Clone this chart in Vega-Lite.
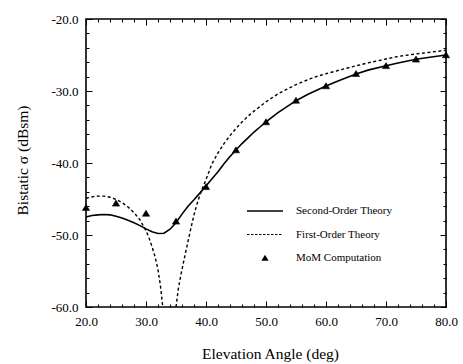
{
  "$schema": "https://vega.github.io/schema/vega-lite/v6.json",
  "width": 360,
  "height": 288,
  "autosize": "none",
  "padding": {"left": 86, "top": 19, "right": 17, "bottom": 57},
  "background": "white",
  "config": {
    "view": {"stroke": "black", "strokeWidth": 1.6},
    "axis": {
      "labelFont": "Liberation Serif",
      "labelFontSize": 13,
      "labelColor": "black",
      "titleFont": "Liberation Serif",
      "titleFontSize": 15.5,
      "titleFontWeight": "normal",
      "titleColor": "black",
      "tickColor": "black",
      "tickWidth": 1,
      "grid": false,
      "domain": false,
      "labelFlush": false,
      "labelOverlap": false
    }
  },
  "datasets": {
    "second": [
      {"angle": 20, "sigma": -47.5}, {"angle": 21, "sigma": -47.3}, {"angle": 22, "sigma": -47.2},
      {"angle": 23, "sigma": -47.15}, {"angle": 24, "sigma": -47.2}, {"angle": 25, "sigma": -47.4},
      {"angle": 26, "sigma": -47.65}, {"angle": 27, "sigma": -47.95}, {"angle": 28, "sigma": -48.3},
      {"angle": 29, "sigma": -48.7}, {"angle": 30, "sigma": -49.15}, {"angle": 31, "sigma": -49.55},
      {"angle": 32, "sigma": -49.8}, {"angle": 33, "sigma": -49.75}, {"angle": 34, "sigma": -49.2},
      {"angle": 35, "sigma": -48.3}, {"angle": 36, "sigma": -47.1}, {"angle": 37, "sigma": -46.0},
      {"angle": 38, "sigma": -45.1}, {"angle": 39, "sigma": -44.15}, {"angle": 40, "sigma": -43.2},
      {"angle": 41, "sigma": -42.2}, {"angle": 42, "sigma": -41.2}, {"angle": 43, "sigma": -40.1},
      {"angle": 44, "sigma": -39.1}, {"angle": 45, "sigma": -38.2}, {"angle": 46, "sigma": -37.3},
      {"angle": 47, "sigma": -36.5}, {"angle": 48, "sigma": -35.7}, {"angle": 49, "sigma": -35.0},
      {"angle": 50, "sigma": -34.3}, {"angle": 52, "sigma": -33.0}, {"angle": 54, "sigma": -31.9},
      {"angle": 55, "sigma": -31.35}, {"angle": 57, "sigma": -30.45}, {"angle": 60, "sigma": -29.3},
      {"angle": 62, "sigma": -28.6}, {"angle": 65, "sigma": -27.65}, {"angle": 67, "sigma": -27.1},
      {"angle": 70, "sigma": -26.5}, {"angle": 72, "sigma": -26.1}, {"angle": 75, "sigma": -25.6},
      {"angle": 77, "sigma": -25.35}, {"angle": 80, "sigma": -25.0}
    ],
    "firstLow": [
      {"angle": 20, "sigma": -44.9}, {"angle": 21, "sigma": -44.7}, {"angle": 22, "sigma": -44.6},
      {"angle": 23, "sigma": -44.6}, {"angle": 24, "sigma": -44.75}, {"angle": 25, "sigma": -45.05},
      {"angle": 26, "sigma": -45.5}, {"angle": 27, "sigma": -46.1}, {"angle": 28, "sigma": -46.9},
      {"angle": 29, "sigma": -47.9}, {"angle": 30, "sigma": -49.4}, {"angle": 30.5, "sigma": -50.4},
      {"angle": 31, "sigma": -51.6}, {"angle": 31.5, "sigma": -53.0}, {"angle": 32, "sigma": -54.8},
      {"angle": 32.4, "sigma": -57.0}, {"angle": 32.8, "sigma": -60.0}
    ],
    "firstHigh": [
      {"angle": 35.0, "sigma": -60.0}, {"angle": 35.4, "sigma": -57.4}, {"angle": 35.8, "sigma": -55.6},
      {"angle": 36.4, "sigma": -53.2}, {"angle": 37, "sigma": -50.9}, {"angle": 37.5, "sigma": -49.0},
      {"angle": 38, "sigma": -47.2}, {"angle": 38.5, "sigma": -45.7}, {"angle": 39, "sigma": -44.4},
      {"angle": 39.5, "sigma": -43.3}, {"angle": 40, "sigma": -42.3}, {"angle": 41, "sigma": -40.1},
      {"angle": 42, "sigma": -38.6}, {"angle": 43, "sigma": -37.3}, {"angle": 44, "sigma": -36.2},
      {"angle": 45, "sigma": -35.2}, {"angle": 46, "sigma": -34.3}, {"angle": 47, "sigma": -33.5},
      {"angle": 48, "sigma": -32.8}, {"angle": 50, "sigma": -31.5}, {"angle": 52, "sigma": -30.4},
      {"angle": 55, "sigma": -29.1}, {"angle": 58, "sigma": -28.1}, {"angle": 60, "sigma": -27.6},
      {"angle": 62, "sigma": -27.15}, {"angle": 65, "sigma": -26.5}, {"angle": 67, "sigma": -26.1},
      {"angle": 70, "sigma": -25.55}, {"angle": 72, "sigma": -25.2}, {"angle": 75, "sigma": -24.85},
      {"angle": 77, "sigma": -24.65}, {"angle": 80, "sigma": -24.35}
    ],
    "mom": [
      {"angle": 20, "sigma": -46.2, "series": "MoM Computation"},
      {"angle": 25, "sigma": -45.6, "series": "MoM Computation"},
      {"angle": 30, "sigma": -47.0, "series": "MoM Computation"},
      {"angle": 35, "sigma": -48.1, "series": "MoM Computation"},
      {"angle": 40, "sigma": -43.3, "series": "MoM Computation"},
      {"angle": 45, "sigma": -38.2, "series": "MoM Computation"},
      {"angle": 50, "sigma": -34.3, "series": "MoM Computation"},
      {"angle": 55, "sigma": -31.3, "series": "MoM Computation"},
      {"angle": 60, "sigma": -29.3, "series": "MoM Computation"},
      {"angle": 65, "sigma": -27.6, "series": "MoM Computation"},
      {"angle": 70, "sigma": -26.5, "series": "MoM Computation"},
      {"angle": 75, "sigma": -25.6, "series": "MoM Computation"},
      {"angle": 80, "sigma": -25.0, "series": "MoM Computation"}
    ]
  },
  "resolve": {"axis": {"x": "independent", "y": "independent"}},
  "layer": [
    {
      "data": {"name": "second"},
      "mark": {"type": "line", "color": "black", "strokeWidth": 1.6},
      "encoding": {
        "x": {
          "field": "angle", "type": "quantitative",
          "scale": {"domain": [20, 80], "nice": false, "zero": false},
          "axis": {
            "orient": "bottom", "values": [20, 30, 40, 50, 60, 70, 80],
            "tickSize": -6, "labelPadding": 14,
            "labelExpr": "format(datum.value, '.1f')",
            "title": "Elevation Angle (deg)",
            "titleX": 184, "titleY": 46, "titleBaseline": "middle", "titleAlign": "center"
          }
        },
        "y": {
          "field": "sigma", "type": "quantitative",
          "scale": {"domain": [-60, -20], "nice": false, "zero": false},
          "axis": {
            "orient": "left", "values": [-60, -50, -40, -30, -20],
            "tickSize": -6, "labelPadding": 14,
            "labelExpr": "(datum.value < 0 ? '-' : '') + format(abs(datum.value), '.1f')",
            "title": "Bistatic σ (dBsm)",
            "titleX": -64, "titleY": 141, "titleAngle": -90,
            "titleBaseline": "middle", "titleAlign": "center",
            "titleFontSize": 15.5
          }
        }
      }
    },
    {
      "data": {"name": "firstLow"},
      "mark": {"type": "line", "color": "black", "strokeWidth": 1.4, "strokeDash": [3, 2.5]},
      "encoding": {
        "x": {
          "field": "angle", "type": "quantitative",
          "axis": {"orient": "top", "values": [20, 30, 40, 50, 60, 70, 80], "tickSize": -6, "labels": false, "title": null}
        },
        "y": {
          "field": "sigma", "type": "quantitative",
          "axis": {"orient": "right", "values": [-60, -50, -40, -30, -20], "tickSize": -6, "labels": false, "title": null}
        }
      }
    },
    {
      "data": {"name": "firstHigh"},
      "mark": {"type": "line", "color": "black", "strokeWidth": 1.4, "strokeDash": [3, 2.5]},
      "encoding": {
        "x": {
          "field": "angle", "type": "quantitative",
          "axis": {"orient": "bottom", "values": [22, 24, 26, 28, 32, 34, 36, 38, 42, 44, 46, 48, 52, 54, 56, 58, 62, 64, 66, 68, 72, 74, 76, 78], "tickSize": -3, "labels": false, "title": null}
        },
        "y": {
          "field": "sigma", "type": "quantitative",
          "axis": {"orient": "left", "values": [-58, -56, -54, -52, -48, -46, -44, -42, -38, -36, -34, -32, -28, -26, -24, -22], "tickSize": -3, "labels": false, "title": null}
        }
      }
    },
    {
      "data": {"name": "mom"},
      "mark": {"type": "point", "filled": true, "color": "black", "stroke": "black", "strokeWidth": 0.6, "opacity": 1, "size": 400},
      "encoding": {
        "x": {
          "field": "angle", "type": "quantitative",
          "axis": {"orient": "top", "values": [22, 24, 26, 28, 32, 34, 36, 38, 42, 44, 46, 48, 52, 54, 56, 58, 62, 64, 66, 68, 72, 74, 76, 78], "tickSize": -3, "labels": false, "title": null}
        },
        "y": {
          "field": "sigma", "type": "quantitative",
          "axis": {"orient": "right", "values": [-58, -56, -54, -52, -48, -46, -44, -42, -38, -36, -34, -32, -28, -26, -24, -22], "tickSize": -3, "labels": false, "title": null}
        },
        "shape": {
          "field": "series", "type": "nominal",
          "scale": {
            "domain": ["Second-Order Theory", "First-Order Theory", "MoM Computation"],
            "range": [
              "M-1.8,-0.07L1.8,-0.07L1.8,0.07L-1.8,0.07Z",
              "M-1.8,-0.06L-1.55,-0.06L-1.55,0.06L-1.8,0.06ZM-1.4,-0.06L-1.15,-0.06L-1.15,0.06L-1.4,0.06ZM-1,-0.06L-0.75,-0.06L-0.75,0.06L-1,0.06ZM-0.6,-0.06L-0.35,-0.06L-0.35,0.06L-0.6,0.06ZM-0.2,-0.06L0.05,-0.06L0.05,0.06L-0.2,0.06ZM0.2,-0.06L0.45,-0.06L0.45,0.06L0.2,0.06ZM0.6,-0.06L0.85,-0.06L0.85,0.06L0.6,0.06ZM1,-0.06L1.25,-0.06L1.25,0.06L1,0.06ZM1.4,-0.06L1.65,-0.06L1.65,0.06L1.4,0.06Z",
              "M0,-0.32L0.36,0.28L-0.36,0.28Z"
            ]
          },
          "legend": {
            "orient": "none", "legendX": 169, "legendY": 182,
            "title": null,
            "labelFont": "Liberation Serif", "labelFontSize": 11, "labelColor": "black",
            "labelOffset": 21, "rowPadding": 8.5, "padding": 0,
            "symbolSize": 400, "symbolFillColor": "black",
            "symbolStrokeWidth": 0, "symbolOpacity": 1,
            "encode": {
              "symbols": {
                "update": {
                  "fill": {"value": "black"},
                  "opacity": {"value": 1}
                }
              }
            }
          }
        }
      }
    }
  ]
}
